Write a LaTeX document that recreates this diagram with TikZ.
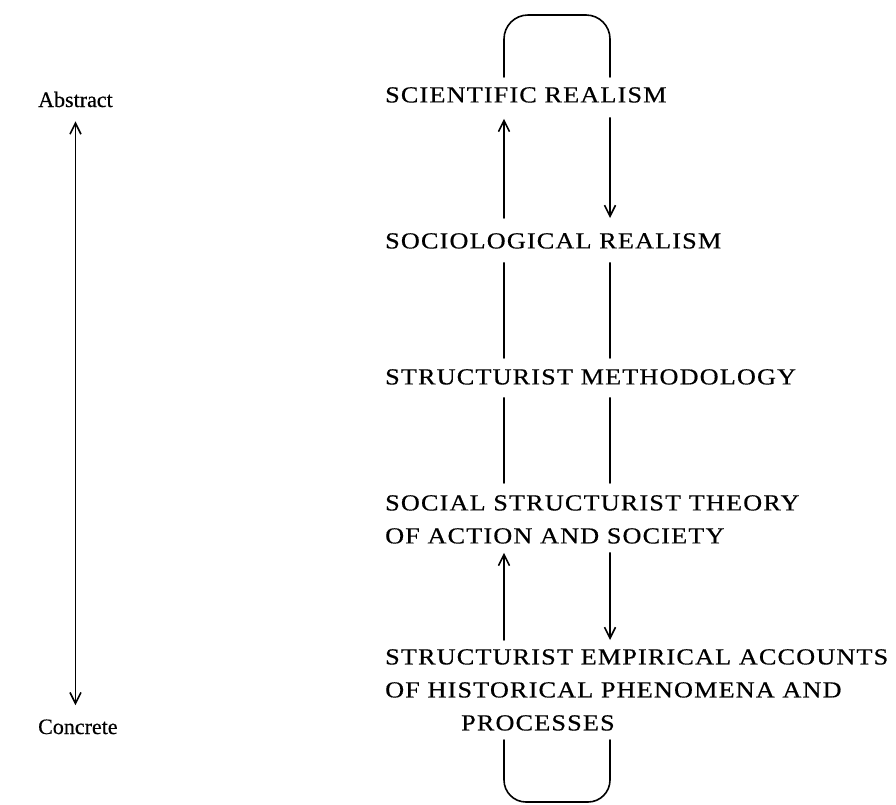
\documentclass[tikz,border=0pt]{standalone}
\usepackage{fontspec}
\setmainfont[FakeBold=0.5]{Liberation Serif}
% wide, lightly spaced capitals for the five levels
\newfontfamily\levelfont[LetterSpace=5,FakeStretch=1.14,FakeBold=0.5]{Liberation Serif}
\usetikzlibrary{arrows.meta}
\begin{document}
\begin{tikzpicture}[x=1pt,y=-1pt,
  level/.style={anchor=north west,inner sep=0pt,align=left,
    font=\levelfont\fontsize{23}{33}\selectfont},
  pole/.style={anchor=base west,inner sep=0pt,font=\fontsize{22}{26}\selectfont},
  link/.style={line width=1.6pt,line cap=round},
  tip/.tip={Straight Barb[length=11pt,width=11pt]},
  arr/.style={link,-tip},
  dblarr/.style={link,tip-tip}]
\useasboundingbox (0,0) rectangle (896,804);

% scale of abstraction
\node[pole] (abs)  at (38,107) {Abstract};
\node[pole] (conc) at (38,734) {Concrete};
\draw[dblarr] ([yshift=-14pt]abs.south) -- ([yshift=14pt]abs.south |- conc.north);

% the levels
\node[level] (sci)    at (385,87)  {SCIENTIFIC REALISM};
\node[level] (soc)    at (385,233) {SOCIOLOGICAL REALISM};
\node[level] (meth)   at (385,369) {STRUCTURIST METHODOLOGY};
\node[level] (theory) at (385,495) {SOCIAL STRUCTURIST THEORY\\OF ACTION AND SOCIETY};
\node[level] (emp)    at (385,649) {STRUCTURIST EMPIRICAL ACCOUNTS\\OF HISTORICAL PHENOMENA AND\\\hspace*{76pt}PROCESSES};

% the two channels
\coordinate (xl) at (504,0);
\coordinate (xr) at (610,0);
\coordinate (crest)  at (557,15);
\coordinate (trough) at (556,802);

% loop over the top
\draw[link,rounded corners=24pt] ([yshift=10pt]sci.north -| xl) |- (crest) -| ([yshift=10pt]sci.north -| xr);

% scientific realism <-> sociological realism
\draw[arr] ([yshift=15pt]soc.north -| xl) -- ([yshift=-16pt]sci.south -| xl);
\draw[arr] ([yshift=-15pt]sci.south -| xr) -- ([yshift=15pt]soc.north -| xr);

% sociological realism -- methodology
\draw[link] ([yshift=-14pt]soc.south -| xl) -- ([yshift=11pt]meth.north -| xl);
\draw[link] ([yshift=-14pt]soc.south -| xr) -- ([yshift=11pt]meth.north -| xr);

% methodology -- theory
\draw[link] ([yshift=-13pt]meth.south -| xl) -- ([yshift=12pt]theory.north -| xl);
\draw[link] ([yshift=-13pt]meth.south -| xr) -- ([yshift=12pt]theory.north -| xr);

% theory <-> empirical accounts
\draw[arr] ([yshift=9pt]emp.north -| xl) -- ([yshift=-9pt]theory.south -| xl);
\draw[arr] ([yshift=-9pt]theory.south -| xr) -- ([yshift=9pt]emp.north -| xr);

% loop under the bottom
\draw[link,rounded corners=22pt] ([yshift=-9pt]emp.south -| xl) |- (trough) -| ([yshift=-9pt]emp.south -| xr);
\end{tikzpicture}
\end{document}
